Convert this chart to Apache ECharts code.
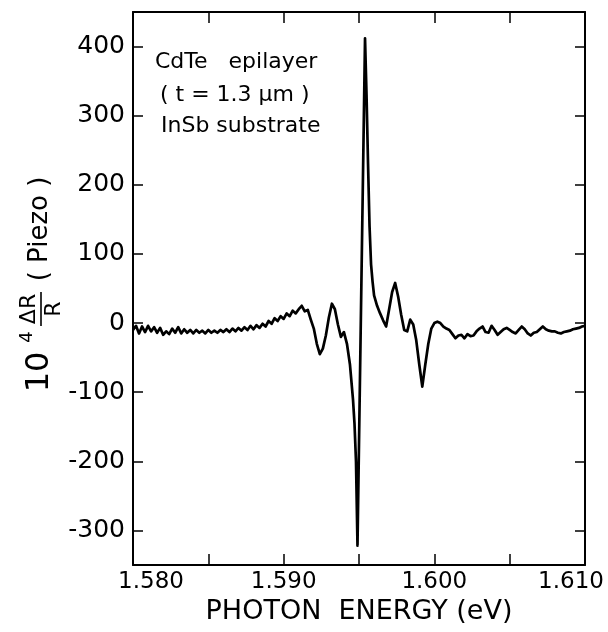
<!DOCTYPE html>
<html>
<head>
<meta charset="utf-8">
<script src="https://cdn.jsdelivr.net/npm/echarts@6/dist/echarts.min.js"></script>
<style>
html,body{margin:0;padding:0;background:#fff;}
#chart{width:608px;height:632px;}
</style>
</head>
<body>
<div id="chart"></div>
<script>
// Photon energy (eV)
var energy = [
1.5800,1.5802,1.5804,1.5806,1.5808,1.5810,1.5812,1.5814,1.5816,1.5818,
1.5820,1.5822,1.5824,1.5826,1.5828,1.5830,1.5832,1.5834,1.5836,1.5838,
1.5840,1.5842,1.5844,1.5846,1.5848,1.5850,1.5852,1.5854,1.5856,1.5858,
1.5860,1.5862,1.5864,1.5866,1.5868,1.5870,1.5872,1.5874,1.5876,1.5878,
1.5880,1.5882,1.5884,1.5886,1.5888,1.5890,1.5892,1.5894,1.5896,1.5898,
1.5900,1.5902,1.5904,1.5906,1.5908,1.5910,1.5912,1.5914,1.5916,1.5918,
1.5920,1.5922,1.5924,1.5926,1.5928,1.5930,1.5932,1.5934,1.5936,1.5938,
1.5940,1.5942,1.5944,1.5946,1.5947,1.5948,1.5949,1.5954,1.5955,1.5956,
1.5957,1.5958,1.5959,1.5960,1.5962,1.5964,1.5966,1.5968,1.5970,1.5972,
1.5974,1.5976,1.5978,1.5980,1.5982,1.5984,1.5986,1.5988,1.5990,1.5992,
1.5994,1.5996,1.5998,1.6000,1.6002,1.6004,1.6006,1.6008,1.6010,1.6012,
1.6014,1.6016,1.6018,1.6020,1.6022,1.6024,1.6026,1.6028,1.6030,1.6032,
1.6034,1.6036,1.6038,1.6040,1.6042,1.6044,1.6046,1.6048,1.6050,1.6052,
1.6054,1.6056,1.6058,1.6060,1.6062,1.6064,1.6066,1.6068,1.6070,1.6072,
1.6074,1.6076,1.6078,1.6080,1.6082,1.6084,1.6086,1.6088,1.6090,1.6092,
1.6094,1.6096,1.6098,1.6100
];
// 10^4 dR/R (Piezo)
var piezo = [
-10,-4,-15,-5,-13,-4,-12,-6,-14,-7,
-17,-12,-16,-8,-14,-6,-15,-9,-14,-10,
-15,-10,-14,-11,-15,-10,-14,-11,-14,-10,
-13,-9,-13,-8,-12,-7,-11,-6,-10,-4,
-9,-3,-7,-1,-5,3,-1,7,3,10,
6,14,10,18,14,20,25,17,19,5,
-8,-30,-45,-37,-18,8,28,20,-2,-20,
-13,-30,-60,-110,-145,-200,-322,412,330,230,
140,85,60,40,25,14,4,-5,20,45,
58,38,12,-10,-12,5,-2,-25,-60,-92,
-60,-30,-8,0,2,0,-5,-8,-10,-16,
-22,-18,-17,-22,-16,-19,-18,-12,-8,-5,
-13,-14,-4,-10,-17,-13,-9,-7,-10,-13,
-15,-10,-5,-9,-15,-18,-14,-13,-9,-5,
-9,-11,-12,-12,-14,-15,-13,-12,-11,-9,
-8,-7,-5,-4
];
var xTicks = [1.580,1.585,1.590,1.595,1.600,1.605,1.610];
var xLabels = [1.580,1.590,1.600,1.610];
var yTicks = [-300,-200,-100,0,100,200,300,400];

var seriesData = energy.map(function(e,i){ return [e, piezo[i]]; });

var chart = echarts.init(document.getElementById('chart'), null, {renderer:'canvas'});
var FONT = 'DejaVu Sans';
var axisLineStyle = {color:'#000', width:2};
var labStyle = {fontFamily:FONT, fontSize:23, color:'#000'};
var option = {
  animation:false,
  backgroundColor:'#fff',
  grid:{left:133, right:23, top:12, bottom:67, containLabel:false, outerBoundsMode:'none'},
  xAxis:[{
    type:'value', min:1.580, max:1.610, position:'bottom',
    axisLine:{show:true, onZero:false, lineStyle:axisLineStyle},
    axisTick:{show:true, inside:true, length:11, lineStyle:{color:'#000', width:1.5}, customValues:xTicks},
    axisLabel:{show:true, customValues:xLabels, margin:6, color:'#000', fontFamily:FONT, fontSize:23,
      formatter:function(v){
        var s = v.toFixed(3);
        if (Math.abs(v - xLabels[0]) < 1e-9) return '{first|' + s + '}';
        if (Math.abs(v - xLabels[xLabels.length-1]) < 1e-9) return '{last|' + s + '}';
        return s;
      },
      rich:{
        first:Object.assign({padding:[0,0,0,36]}, labStyle),
        last:Object.assign({padding:[0,28,0,0]}, labStyle)
      }},
    splitLine:{show:false},
    name:'PHOTON  ENERGY (eV)', nameLocation:'middle', nameGap:32,
    nameTextStyle:{color:'#000', fontFamily:FONT, fontSize:27, verticalAlign:'top'}
  },{
    type:'value', min:1.580, max:1.610, position:'top',
    axisLine:{show:true, onZero:false, lineStyle:axisLineStyle},
    axisTick:{show:true, inside:true, length:11, lineStyle:{color:'#000', width:1.5}, customValues:xTicks},
    axisLabel:{show:false},
    splitLine:{show:false}
  }],
  yAxis:[{
    type:'value', min:-350, max:450, position:'left',
    axisLine:{show:true, onZero:false, lineStyle:axisLineStyle},
    axisTick:{show:true, inside:true, length:10, lineStyle:{color:'#000', width:1.5}, customValues:yTicks},
    axisLabel:{show:true, customValues:yTicks, margin:8, color:'#000', fontFamily:FONT, fontSize:25,
      formatter:function(v){ return String(v); }},
    splitLine:{show:false}
  },{
    type:'value', min:-350, max:450, position:'right',
    axisLine:{show:true, onZero:false, lineStyle:axisLineStyle},
    axisTick:{show:true, inside:true, length:10, lineStyle:{color:'#000', width:1.5}, customValues:yTicks},
    axisLabel:{show:false},
    splitLine:{show:false}
  }],
  series:[{
    type:'line', xAxisIndex:0, yAxisIndex:0,
    data:seriesData, showSymbol:false, symbol:'none',
    lineStyle:{color:'#000', width:2.7, join:'round'},
    smooth:false
  }],
  graphic:[
    {type:'text', left:155, top:51, style:{text:'CdTe   epilayer', fontFamily:FONT, fontSize:22, fill:'#000'}},
    {type:'text', left:160, top:84, style:{text:'( t = 1.3 μm )', fontFamily:FONT, fontSize:22, fill:'#000'}},
    {type:'text', left:161, top:115, style:{text:'InSb substrate', fontFamily:FONT, fontSize:22, fill:'#000'}},
    {type:'group', x:40, y:285, rotation:Math.PI/2, children:[
      {type:'text', x:-87, y:0, style:{text:'10', fontFamily:FONT, fontSize:32, fill:'#000', align:'center', verticalAlign:'middle'}},
      {type:'text', x:-52, y:-13, style:{text:'4', fontFamily:FONT, fontSize:18, fill:'#000', align:'center', verticalAlign:'middle'}},
      {type:'text', x:-24, y:-11, style:{text:'ΔR', fontFamily:FONT, fontSize:22, fill:'#000', align:'center', verticalAlign:'middle'}},
      {type:'line', shape:{x1:-41, y1:1, x2:-7, y2:1}, style:{stroke:'#000', lineWidth:1.6}},
      {type:'text', x:-24, y:14, style:{text:'R', fontFamily:FONT, fontSize:22, fill:'#000', align:'center', verticalAlign:'middle'}},
      {type:'text', x:56, y:0, style:{text:'( Piezo )', fontFamily:FONT, fontSize:26, fill:'#000', align:'center', verticalAlign:'middle'}}
    ]}
  ]
};
chart.setOption(option);
</script>
</body>
</html>
